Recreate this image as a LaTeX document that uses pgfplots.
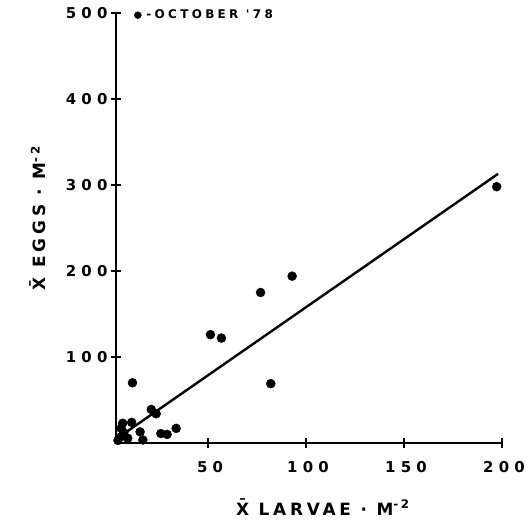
\documentclass[border=0pt]{standalone}
\usepackage{fontspec}
\setmainfont{DejaVu Sans}
\newfontfamily\lab[LetterSpace=35]{DejaVu Sans}
\newfontfamily\axlab[LetterSpace=22]{DejaVu Sans}
\newfontfamily\leglab[LetterSpace=28]{DejaVu Sans}
\usepackage{pgfplots}
\usepackage{pgfplotstable}
\pgfplotsset{compat=1.18}

% mean eggs vs mean larvae per m^2, October '78
\pgfplotstableread{
x y
197.3 298
92.9 194
76.8 175
51.2 126
56.8 122
82.0 69
11.4 70
21.0 39
23.5 34
33.7 17
25.9 11
29.1 10
16.7 3.5
15.3 13
11.0 24
6.4 23
5.6 17
9.0 5.5
5.6 7.3
4.0 3
7.0 12
}\eggs

\begin{document}
\begin{tikzpicture}
\begin{axis}[
  name=ax,
  scale only axis,
  width=386bp, height=430bp,
  xmin=3, xmax=200, ymin=0, ymax=500,
  axis lines*=left,
  axis line style={line width=1.8pt},
  xtick={50,100,150,200},
  ytick={100,200,300,400,500},
  tick align=center,
  major tick length=10bp,
  tick style={line width=1.6pt, black},
  /pgf/number format/assume math mode=true,
  ticklabel style={font=\lab\bfseries\fontsize{15}{18}\selectfont},
  xticklabel style={yshift=-10bp, xshift=2bp},
  yticklabel style={xshift=0bp},
  xlabel={\={X} LARVAE · M\textsuperscript{-2}},
  ylabel={\={X} EGGS · M\textsuperscript{-2}},
  xlabel style={font=\axlab\bfseries\fontsize{17}{20}\selectfont, at={(axis description cs:0.536,-0.149)}, anchor=center},
  ylabel style={font=\axlab\bfseries\fontsize{17}{20}\selectfont, at={(axis description cs:-0.202,0.523)}, anchor=center, rotate=0},
  clip=false,
  legend style={draw=none, fill=none, at={(axis description cs:0.047,0.995)}, anchor=west,
    font=\leglab\bfseries\fontsize{12}{14}\selectfont, inner sep=0pt,
    /tikz/every odd column/.append style={column sep=3bp}},
  legend cell align=left,
  legend image code/.code={\draw[#1, mark size=3.5bp] plot coordinates {(0bp,0bp)};},
]
\addplot[only marks, mark=*, mark size=4.5bp, black] table {\eggs};
\addlegendentry{-OCTOBER '78}
\addplot[black, line width=2.4pt, no marks, forget plot] coordinates {(4,6) (198,313)};
\end{axis}
\pgfresetboundingbox
\path (ax.south west) ++(-116bp,-78bp) rectangle ++(526bp,521bp);
\end{tikzpicture}
\end{document}
